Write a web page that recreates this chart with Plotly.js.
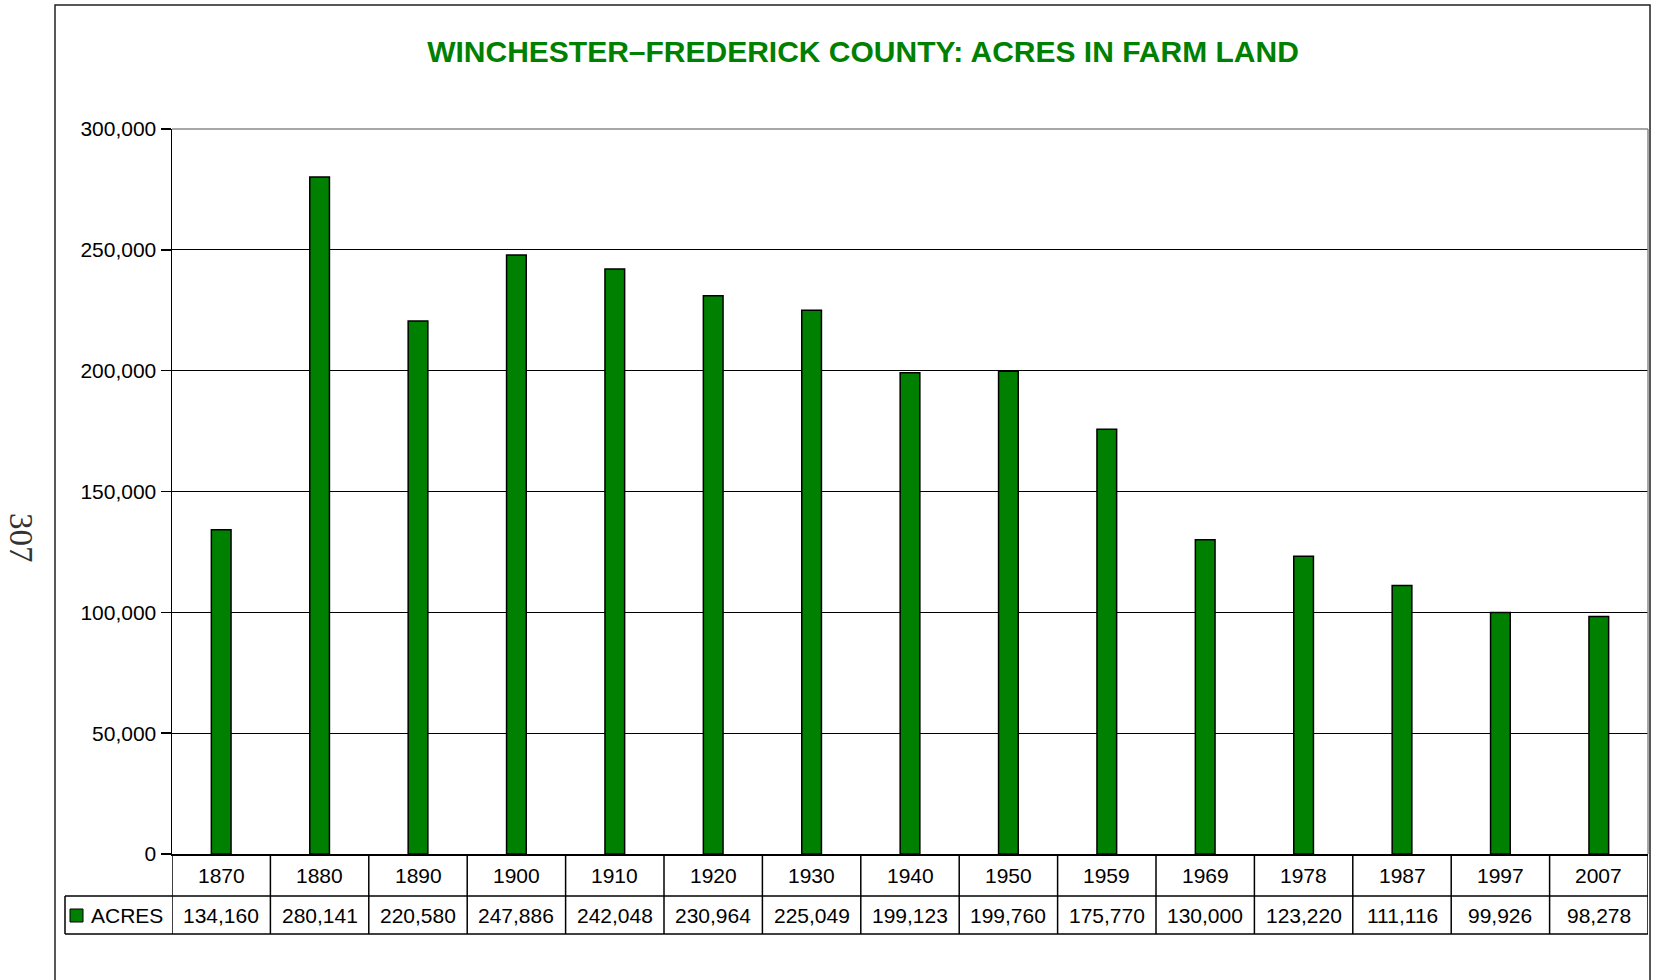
<!DOCTYPE html>
<html><head><meta charset="utf-8">
<script src="https://cdn.plot.ly/plotly-3.0.1.min.js"></script>
<style>html,body{margin:0;padding:0;background:#fff}#chart{width:1656px;height:980px}</style>
</head><body><div id="chart"></div>
<script>
const years = ['1870','1880','1890','1900','1910','1920','1930','1940','1950','1959','1969','1978','1987','1997','2007'];
const acres = [134160,280141,220580,247886,242048,230964,225049,199123,199760,175770,130000,123220,111116,99926,98278];
const seriesName = 'ACRES';
const titleText = 'WINCHESTER–FREDERICK COUNTY: ACRES IN FARM LAND';
const pageNumber = '307';
const yTicks = [0,50000,100000,150000,200000,250000,300000];

const W=1656,H=980,L=172,R=1648,T=129,B=854;
const pw=R-L, ph=B-T;
const px = x => (x-L)/pw;
const py = y => (B-y)/ph;
const row1Bot=896,row2Bot=934,legendLeft=65;
const green='#008000';
const fontFam='"Liberation Sans", Arial, sans-serif';
const n=years.length;
const cx = i => px(L + (i+0.5)*pw/n);

const shapes=[];
const annotations=[];
// plot border (grey top/right)
shapes.push({type:'line',xref:'paper',yref:'paper',x0:0,x1:1,y0:1,y1:1,line:{color:'#8a8a8a',width:1.5},layer:'above'});
shapes.push({type:'line',xref:'paper',yref:'paper',x0:1,x1:1,y0:0,y1:1,line:{color:'#8a8a8a',width:1.5},layer:'above'});
// table verticals at category boundaries
for(let i=0;i<=n;i++){
  shapes.push({type:'line',xref:'x',yref:'paper',x0:i-0.5,x1:i-0.5,y0:py(B),y1:py(row2Bot),line:{color:'#000',width:1.5}});
}
// table horizontals
shapes.push({type:'line',xref:'paper',yref:'paper',x0:px(legendLeft),x1:1,y0:py(row1Bot),y1:py(row1Bot),line:{color:'#000',width:1.5}});
shapes.push({type:'line',xref:'paper',yref:'paper',x0:px(legendLeft),x1:1,y0:py(row2Bot),y1:py(row2Bot),line:{color:'#000',width:1.5}});
shapes.push({type:'line',xref:'paper',yref:'paper',x0:px(legendLeft),x1:px(legendLeft),y0:py(row1Bot),y1:py(row2Bot),line:{color:'#000',width:1.5}});
// legend key
shapes.push({type:'rect',xref:'paper',yref:'paper',x0:px(70),x1:px(83),y0:py(909),y1:py(922),fillcolor:green,line:{color:'#000',width:1}});
// outer frame
shapes.push({type:'rect',xref:'paper',yref:'paper',x0:px(55),x1:px(1650),y0:py(5),y1:py(1000),line:{color:'#222',width:1.5},fillcolor:'rgba(0,0,0,0)'});

years.forEach((yr,i)=>{
  annotations.push({xref:'paper',yref:'paper',x:cx(i),y:py((B+row1Bot)/2),text:yr,showarrow:false,xanchor:'center',yanchor:'middle',font:{family:fontFam,size:21,color:'#000'}});
  annotations.push({xref:'paper',yref:'paper',x:cx(i),y:py((row1Bot+row2Bot)/2),text:acres[i].toLocaleString('en-US'),showarrow:false,xanchor:'center',yanchor:'middle',font:{family:fontFam,size:21,color:'#000'}});
});
annotations.push({xref:'paper',yref:'paper',x:px(89),y:py((row1Bot+row2Bot)/2),text:seriesName,showarrow:false,xanchor:'left',yanchor:'middle',font:{family:fontFam,size:21,color:'#000'}});
annotations.push({xref:'paper',yref:'paper',x:px(21),y:py(538),text:pageNumber,showarrow:false,xanchor:'center',yanchor:'middle',textangle:90,font:{family:'"Liberation Serif", "Times New Roman", serif',size:33,color:'#333'}});

const data=[{type:'bar',x:years,y:acres,name:seriesName,width:0.2,marker:{color:green,line:{color:'#000',width:1.5}},hoverinfo:'x+y'}];

const layout={
  width:W,height:H,
  margin:{l:L,r:W-R,t:T,b:H-B,pad:0},
  paper_bgcolor:'#fff',plot_bgcolor:'#fff',
  showlegend:false,
  title:{text:titleText,x:863/W,xanchor:'center',xref:'container',y:1-51/H,yref:'container',yanchor:'middle',font:{family:fontFam,size:30,color:green,weight:700}},
  xaxis:{type:'category',range:[-0.5,n-0.5],showticklabels:false,ticks:'',showline:true,linecolor:'#000',linewidth:1.5,showgrid:false,zeroline:false,fixedrange:true},
  yaxis:{range:[0,300000],tickvals:yTicks,tickformat:',',showline:true,linecolor:'#000',linewidth:1.5,ticks:'outside',ticklen:10,tickcolor:'#000',tickwidth:1.5,showgrid:true,gridcolor:'#000',gridwidth:1.2,zeroline:false,tickfont:{family:fontFam,size:21,color:'#000'},fixedrange:true},
  shapes:shapes,annotations:annotations,bargap:0
};
Plotly.newPlot('chart',data,layout,{displayModeBar:false,staticPlot:true});
</script></body></html>
